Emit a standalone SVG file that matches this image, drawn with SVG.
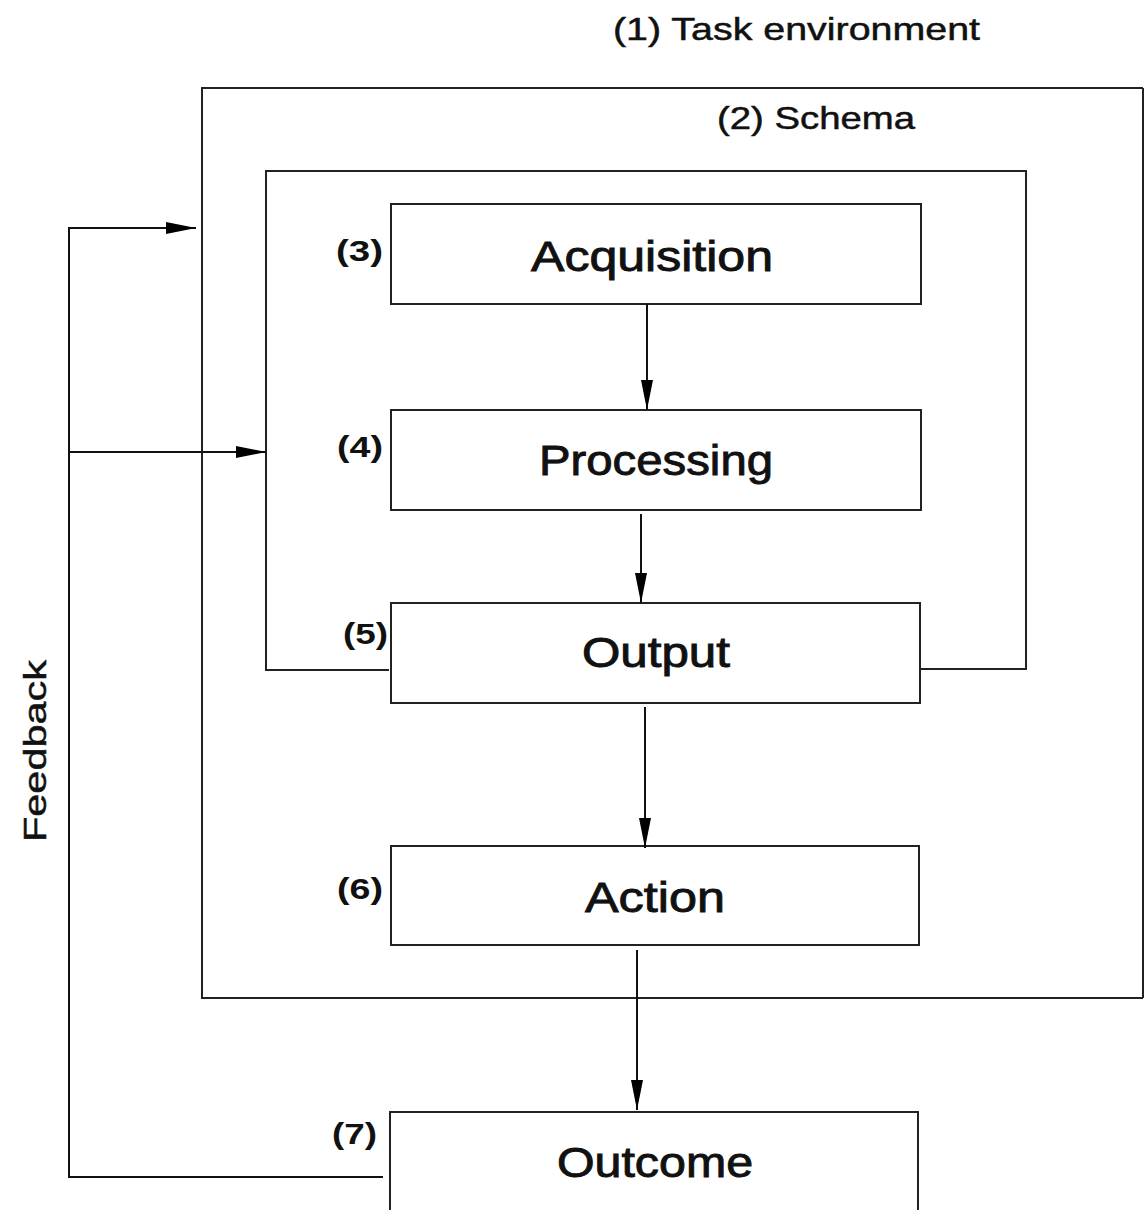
<svg xmlns="http://www.w3.org/2000/svg" width="1144" height="1210" viewBox="0 0 1144 1210">
<style>
.box{fill:none;stroke:#222;stroke-width:2}
.ln{fill:none;stroke:#111;stroke-width:2}
.big{font-family:"Liberation Sans",Arial,sans-serif;font-size:42px;fill:#111;stroke:#111;stroke-width:0.9;text-anchor:middle}
.num{font-family:"Liberation Sans",Arial,sans-serif;font-size:29px;font-weight:bold;fill:#111}
.lab{font-family:"Liberation Sans",Arial,sans-serif;font-size:32px;fill:#111;stroke:#111;stroke-width:0.5}
</style>
<defs>
<marker id="ah" markerWidth="30" markerHeight="12" refX="30" refY="6" orient="auto" markerUnits="userSpaceOnUse">
<path d="M0,0 L30,6 L0,12 z" fill="#000"/>
</marker>
</defs>
<rect width="1144" height="1210" fill="#fff"/>
<g id="task-environment">
<path class="box" d="M1143,88 L202,88 L202,998 L1143,998"/>
<line class="box" x1="1143" y1="88" x2="1143" y2="998" stroke="#bbb"/>
<text class="lab" x="613" y="40" textLength="367" lengthAdjust="spacingAndGlyphs">(1) Task environment</text>
</g>
<g id="schema">
<path class="box" d="M389,670 L266,670 L266,171 L1026,171 L1026,669 L920,669"/>
<text class="lab" x="717" y="129" textLength="198" lengthAdjust="spacingAndGlyphs">(2) Schema</text>
</g>
<g id="acquisition">
<rect class="box" x="391" y="204" width="530" height="100"/>
<text class="big" x="652" y="271" textLength="242" lengthAdjust="spacingAndGlyphs">Acquisition</text>
<text class="num" x="336" y="261" textLength="47" lengthAdjust="spacingAndGlyphs">(3)</text>
</g>
<g id="processing">
<rect class="box" x="391" y="410" width="530" height="100"/>
<text class="big" x="656" y="475" textLength="234" lengthAdjust="spacingAndGlyphs">Processing</text>
<text class="num" x="337" y="457" textLength="46" lengthAdjust="spacingAndGlyphs">(4)</text>
</g>
<g id="output">
<rect class="box" x="391" y="603" width="529" height="100"/>
<text class="big" x="656" y="667" textLength="148" lengthAdjust="spacingAndGlyphs">Output</text>
<text class="num" x="343" y="644" textLength="45" lengthAdjust="spacingAndGlyphs">(5)</text>
</g>
<g id="action">
<rect class="box" x="391" y="846" width="528" height="99"/>
<text class="big" x="655" y="912" textLength="140" lengthAdjust="spacingAndGlyphs">Action</text>
<text class="num" x="337" y="899" textLength="46" lengthAdjust="spacingAndGlyphs">(6)</text>
</g>
<g id="outcome">
<path class="box" d="M390,1212 L390,1112 L918,1112 L918,1212"/>
<text class="big" x="655" y="1177" textLength="196" lengthAdjust="spacingAndGlyphs">Outcome</text>
<text class="num" x="332" y="1144" textLength="45" lengthAdjust="spacingAndGlyphs">(7)</text>
</g>
<g id="feedback">
<text class="lab" transform="translate(46,751) rotate(-90)" text-anchor="middle" textLength="182" lengthAdjust="spacingAndGlyphs">Feedback</text>
</g>
<g id="connectors">
<line class="ln" x1="647" y1="304" x2="647" y2="410" marker-end="url(#ah)"/>
<line class="ln" x1="641" y1="514" x2="641" y2="603" marker-end="url(#ah)"/>
<line class="ln" x1="645" y1="707" x2="645" y2="848" marker-end="url(#ah)"/>
<line class="ln" x1="637" y1="950" x2="637" y2="1110" marker-end="url(#ah)"/>
<path class="ln" d="M383,1177 L69,1177 L69,228"/>
<line class="ln" x1="68" y1="228" x2="196" y2="228" marker-end="url(#ah)"/>
<line class="ln" x1="69" y1="452" x2="266" y2="452" marker-end="url(#ah)"/>
</g>
</svg>
